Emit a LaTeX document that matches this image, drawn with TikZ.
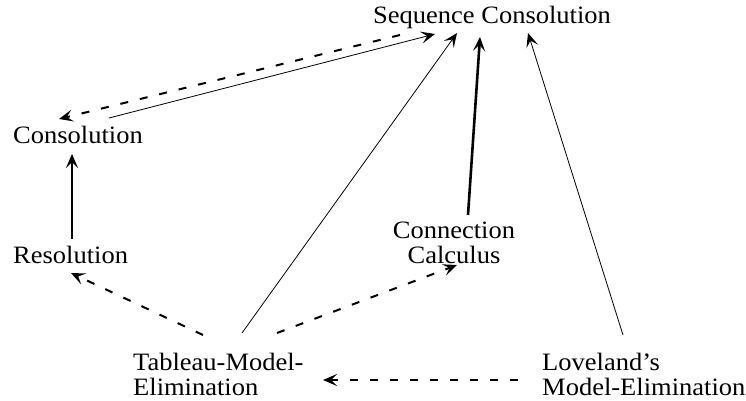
\documentclass[tikz,border=0pt]{standalone}
\usepackage{fontspec}
\setmainfont{Liberation Serif}[FakeStretch=1.06]
\usetikzlibrary{arrows.meta}
\tikzset{
  lbl/.style={inner sep=0pt,font=\fontsize{25}{25}\selectfont},
  tip/.style={-{Stealth[length=14pt,width=12pt,inset=6pt,line width=1.5pt]}},
  thinarr/.style={line width=.8pt,tip},
  thickarr/.style={line width=2.6pt,tip},
  dasharr/.style={line width=2pt,dash pattern=on 8pt off 12pt,tip}
}

\begin{document}
\begin{tikzpicture}[x=1pt,y=1pt]
\path[use as bounding box] (0,0) rectangle (746,400);
\fill[white] (0,0) rectangle (746,400);
\node[lbl,anchor=base west] (seq) at (373,377) {Sequence Consolution};
\node[lbl,anchor=base west] (cons) at (13,257) {Consolution};
\node[lbl,anchor=base west] (res) at (13,137) {Resolution};
\node[lbl,anchor=base,align=center] (conn) at (454,137) {Connection\\Calculus};
\node[lbl,anchor=base west,align=left] (tab) at (133,5) {Tableau-Model-\\Elimination};
\node[lbl,anchor=base west,align=left] (lov) at (542,5) {Loveland's\\Model-Elimination};
\draw[thinarr] ([xshift=96,yshift=25]cons.base west) -- ([xshift=62,yshift=-11]seq.base west);
\draw[dasharr] ([xshift=27,yshift=-12]seq.base west) -- ([xshift=46,yshift=24]cons.base west);
\draw[thickarr] ([xshift=59,yshift=24]res.base west) -- ([xshift=59,yshift=-11]cons.base west);
\draw[thinarr] ([xshift=109,yshift=62]tab.base west) -- ([xshift=84,yshift=-10]seq.base west);
\draw[thickarr] ([xshift=14,yshift=48]conn.base) -- ([xshift=107,yshift=-14]seq.base west);
\draw[thinarr] ([xshift=81,yshift=60]lov.base west) -- ([xshift=155,yshift=-10]seq.base west);
\draw[dasharr] ([xshift=70,yshift=60]tab.base west) -- ([xshift=58,yshift=-10]res.base west);
\draw[dasharr] ([xshift=144,yshift=62]tab.base west) -- ([xshift=3,yshift=-2]conn.base);
\draw[dasharr] ([xshift=-24,yshift=15]lov.base west) -- ([xshift=190,yshift=15]tab.base west);
\end{tikzpicture}
\end{document}
